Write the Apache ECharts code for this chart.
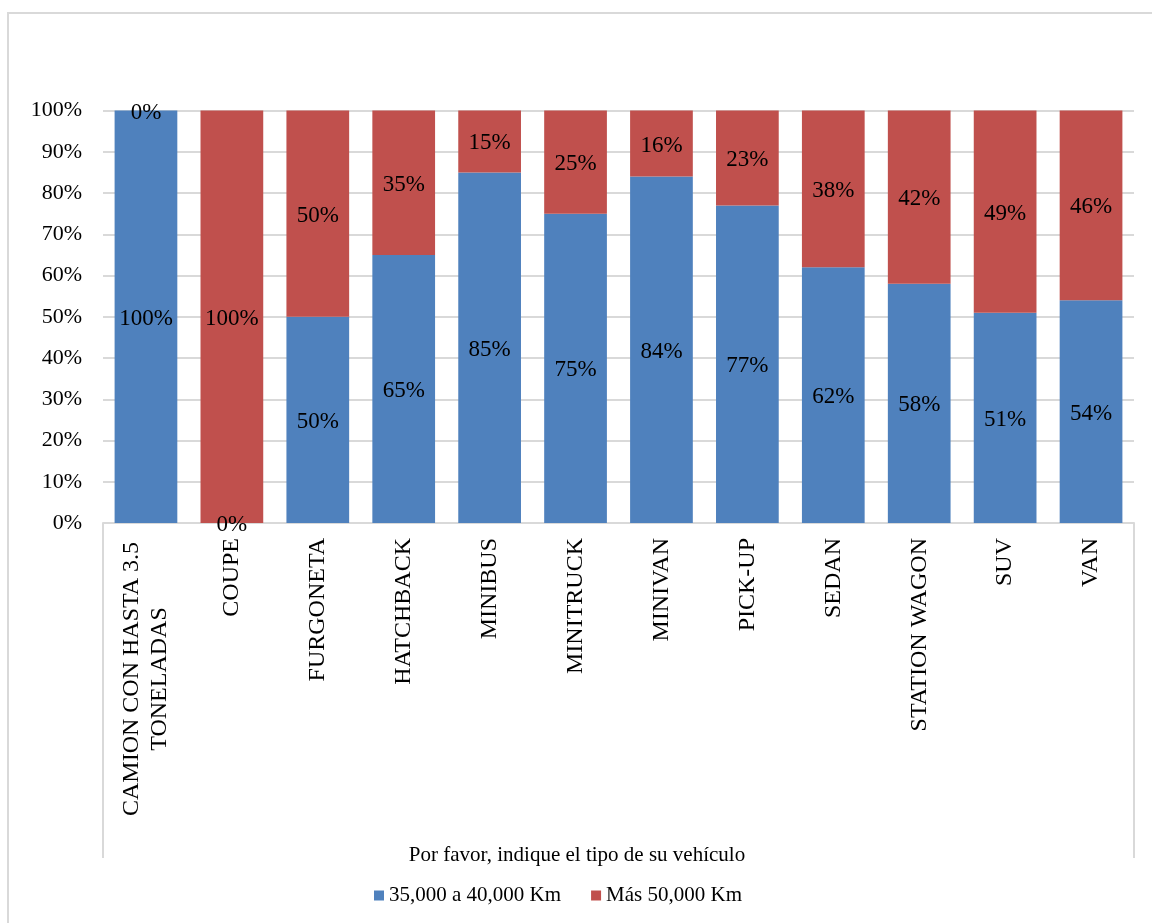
<!DOCTYPE html>
<html>
<head>
<meta charset="utf-8">
<style>
  html, body { margin: 0; padding: 0; background: #ffffff; }
  #chart { width: 1152px; height: 923px; }
</style>
<script src="https://cdn.jsdelivr.net/npm/echarts@6/dist/echarts.min.js"></script>
</head>
<body>
<div id="chart"></div>
<script>
// Vehicle types on the category axis
const categories = [
  'CAMION CON HASTA 3.5\nTONELADAS', 'COUPE', 'FURGONETA', 'HATCHBACK', 'MINIBUS',
  'MINITRUCK', 'MINIVAN', 'PICK-UP', 'SEDAN', 'STATION WAGON', 'SUV', 'VAN'
];
// Share of respondents (%) per mileage band
const km35to40 = [100, 0, 50, 65, 85, 75, 84, 77, 62, 58, 51, 54];
const kmOver50 = [0, 100, 50, 35, 15, 25, 16, 23, 38, 42, 49, 46];
const seriesNames = ['35,000 a 40,000 Km', 'Más 50,000 Km'];
const axisTitle = 'Por favor, indique el tipo de su vehículo';

const FONT = 'Liberation Serif';
const GRID = { left: 103, right: 18, top: 110.5, bottom: 400 };
const W = 1152, H = 923;
const gridRight = W - GRID.right;
const gridBottom = H - GRID.bottom;
const LINE = '#d9d9d9';

const chart = echarts.init(document.getElementById('chart'), null, { renderer: 'canvas' });

const labelStyle = {
  show: true,
  position: 'inside',
  offset: [0, 2],
  formatter: p => p.value + '%',
  color: '#000',
  fontFamily: FONT,
  fontSize: 23
};

chart.setOption({
  animation: false,
  backgroundColor: '#ffffff',
  grid: GRID,
  legend: {
    left: 369,
    top: 880,
    itemWidth: 10,
    itemHeight: 10,
    itemGap: 30,
    icon: 'rect',
    textStyle: { fontFamily: FONT, fontSize: 21, color: '#000' },
    data: seriesNames
  },
  xAxis: {
    type: 'category',
    data: categories,
    name: axisTitle,
    nameLocation: 'middle',
    nameGap: 322,
    nameTextStyle: {
      fontFamily: FONT, fontSize: 21, color: '#000',
      padding: [0, 83, 0, 0]
    },
    axisLine: { show: true, lineStyle: { color: LINE, width: 2 } },
    axisTick: { show: false },
    axisLabel: {
      rotate: 90,
      interval: 0,
      margin: 15,
      fontFamily: FONT,
      fontSize: 24,
      color: '#000',
      formatter: v => v.indexOf('\n') >= 0
        ? v.split('\n').map(s => '{c|' + s + '}').join('\n')
        : v,
      rich: {
        c: { fontFamily: FONT, fontSize: 24, color: '#000', width: 282, align: 'center', lineHeight: 28 }
      }
    },
    splitLine: { show: false }
  },
  yAxis: {
    type: 'value',
    min: 0,
    max: 100,
    interval: 10,
    axisLine: { show: false },
    axisTick: { show: false },
    axisLabel: {
      formatter: '{value}%',
      margin: 21,
      fontFamily: FONT,
      fontSize: 22,
      color: '#000'
    },
    splitLine: { lineStyle: { color: LINE, width: 2 } }
  },
  series: [
    {
      name: seriesNames[0],
      type: 'bar',
      stack: 'total',
      barCategoryGap: '27%',
      itemStyle: { color: '#4f81bd' },
      label: labelStyle,
      data: km35to40
    },
    {
      name: seriesNames[1],
      type: 'bar',
      stack: 'total',
      barCategoryGap: '27%',
      itemStyle: { color: '#c0504d' },
      label: labelStyle,
      data: kmOver50
    }
  ],
  graphic: [
    // chart-area frame
    {
      type: 'rect', silent: true,
      shape: { x: 8, y: 13, width: W + 20, height: H + 20 },
      style: { fill: null, stroke: LINE, lineWidth: 2 }
    },
    // side rules framing the category-label block
    {
      type: 'line', silent: true,
      shape: { x1: GRID.left, y1: gridBottom, x2: GRID.left, y2: 858 },
      style: { stroke: LINE, lineWidth: 2 }
    },
    {
      type: 'line', silent: true,
      shape: { x1: gridRight, y1: gridBottom, x2: gridRight, y2: 858 },
      style: { stroke: LINE, lineWidth: 2 }
    }
  ]
});
</script>
</body>
</html>
